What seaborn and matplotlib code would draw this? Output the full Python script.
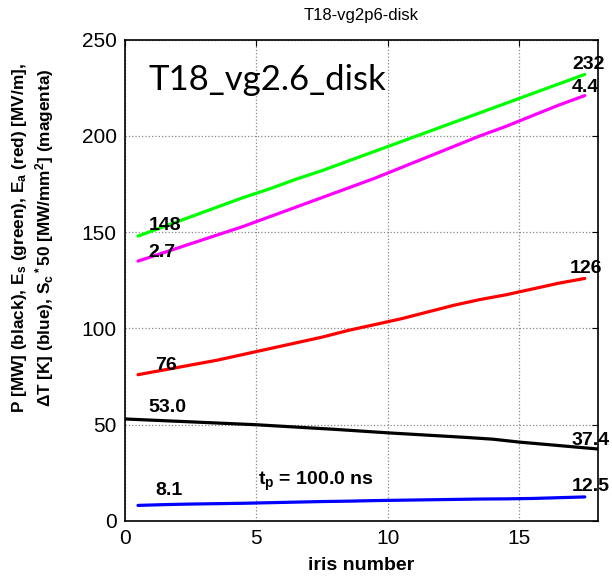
import numpy as np
import pandas as pd
import matplotlib
matplotlib.use("Agg")
import matplotlib.pyplot as plt
import seaborn as sns

sns.set_style("white")
plt.rcParams['font.family'] = ['Liberation Sans', 'DejaVu Sans']
plt.rcParams['text.color'] = 'black'
plt.rcParams['axes.labelcolor'] = 'black'
plt.rcParams['xtick.color'] = 'black'
plt.rcParams['ytick.color'] = 'black'
plt.rcParams['mathtext.fontset'] = 'custom'
plt.rcParams['mathtext.rm'] = 'Liberation Sans:bold'
plt.rcParams['mathtext.bf'] = 'Liberation Sans:bold'
plt.rcParams['mathtext.it'] = 'Liberation Sans:bold'
plt.rcParams['mathtext.default'] = 'rm'

iris = [0.5 + i for i in range(18)]
iris_p = list(range(19))
Es = [148, 153, 158, 163, 168, 172.5, 177.5, 182, 187, 192, 197, 202, 207, 212, 217, 222, 227, 232]
Sc50 = [135, 139.5, 144, 148.5, 153, 158, 163, 168, 173, 178, 183.5, 189, 194.5, 200, 205, 210.5, 216, 221]
Ea = [76, 78.5, 81, 83.5, 86.5, 89.5, 92.5, 95.5, 99, 102, 105, 108.5, 112, 115, 117.5, 120.5, 123.5, 126]
P = [53.0, 52.4, 51.8, 51.2, 50.6, 50.0, 49.2, 48.4, 47.6, 46.7, 45.8, 45.0, 44.2, 43.4, 42.5, 41.0, 39.8, 38.6, 37.4]
dT = [8.1, 8.5, 8.8, 9.0, 9.2, 9.5, 9.8, 10.1, 10.3, 10.6, 10.8, 11.0, 11.2, 11.4, 11.5, 11.7, 12.1, 12.5]

frames = [
    pd.DataFrame({'x': iris, 'y': Es, 's': 'Es'}),
    pd.DataFrame({'x': iris, 'y': Sc50, 's': 'Sc'}),
    pd.DataFrame({'x': iris, 'y': Ea, 's': 'Ea'}),
    pd.DataFrame({'x': iris_p, 'y': P, 's': 'P'}),
    pd.DataFrame({'x': iris, 'y': dT, 's': 'dT'}),
]
df = pd.concat(frames, ignore_index=True)
palette = {'Es': '#00ff00', 'Sc': '#ff00ff', 'Ea': '#ff0000', 'P': '#000000', 'dT': '#0000ff'}

fig = plt.figure(figsize=(6.12, 5.76), dpi=100)
ax = fig.add_axes([0.204, 0.0955, 0.773, 0.8355])
sns.lineplot(data=df, x='x', y='y', hue='s', palette=palette, linewidth=2.3, legend=False, ax=ax, sort=False)

ax.set_xlim(0, 18)
ax.set_ylim(0, 250)
ax.set_xticks([0, 5, 10, 15])
ax.set_yticks([0, 50, 100, 150, 200, 250])
ax.tick_params(direction='in', top=True, right=True, labelsize=15, length=4, pad=6)
for sp in ax.spines.values():
    sp.set_color('black')
    sp.set_linewidth(1.2)
ax.grid(True, linestyle=':', color='#888888', linewidth=0.9)

ax.set_title('T18-vg2p6-disk', fontsize=12, pad=14)
ax.set_xlabel('iris number', fontsize=14, fontweight='bold', labelpad=6)
ax.set_ylabel('P [MW] (black), E$_s$ (green), E$_a$ (red) [MV/m],\n'
              r'$\Delta$T [K] (blue), S$_c$$^*$50 [MW/mm$^2$] (magenta)',
              fontsize=12.4, fontweight='bold')
ax.yaxis.set_label_coords(-0.146, 0.588)

bold = dict(fontsize=14, fontweight='bold', color='black')
ax.text(0.9, 153.5, '148', va='center', ha='left', **bold)
ax.text(0.9, 139.5, '2.7', va='center', ha='left', **bold)
ax.text(1.15, 81, '76', va='center', ha='left', **bold)
ax.text(0.9, 59, '53.0', va='center', ha='left', **bold)
ax.text(1.15, 15.6, '8.1', va='center', ha='left', **bold)
ax.text(18.25, 237, '232', va='center', ha='right', **bold)
ax.text(18.05, 225, '4.4', va='center', ha='right', **bold)
ax.text(18.15, 131, '126', va='center', ha='right', **bold)
ax.text(18.45, 42, '37.4', va='center', ha='right', **bold)
ax.text(18.45, 18, '12.5', va='center', ha='right', **bold)
ax.text(5.05, 20.5, 't$_p$ = 100.0 ns', va='center', ha='left', **bold)
ax.text(0.9, 229, 'T18_vg2.6_disk', va='center', ha='left', fontsize=25,
        family=['Lato', 'DejaVu Sans'])

fig.savefig('out.png', dpi=100)
